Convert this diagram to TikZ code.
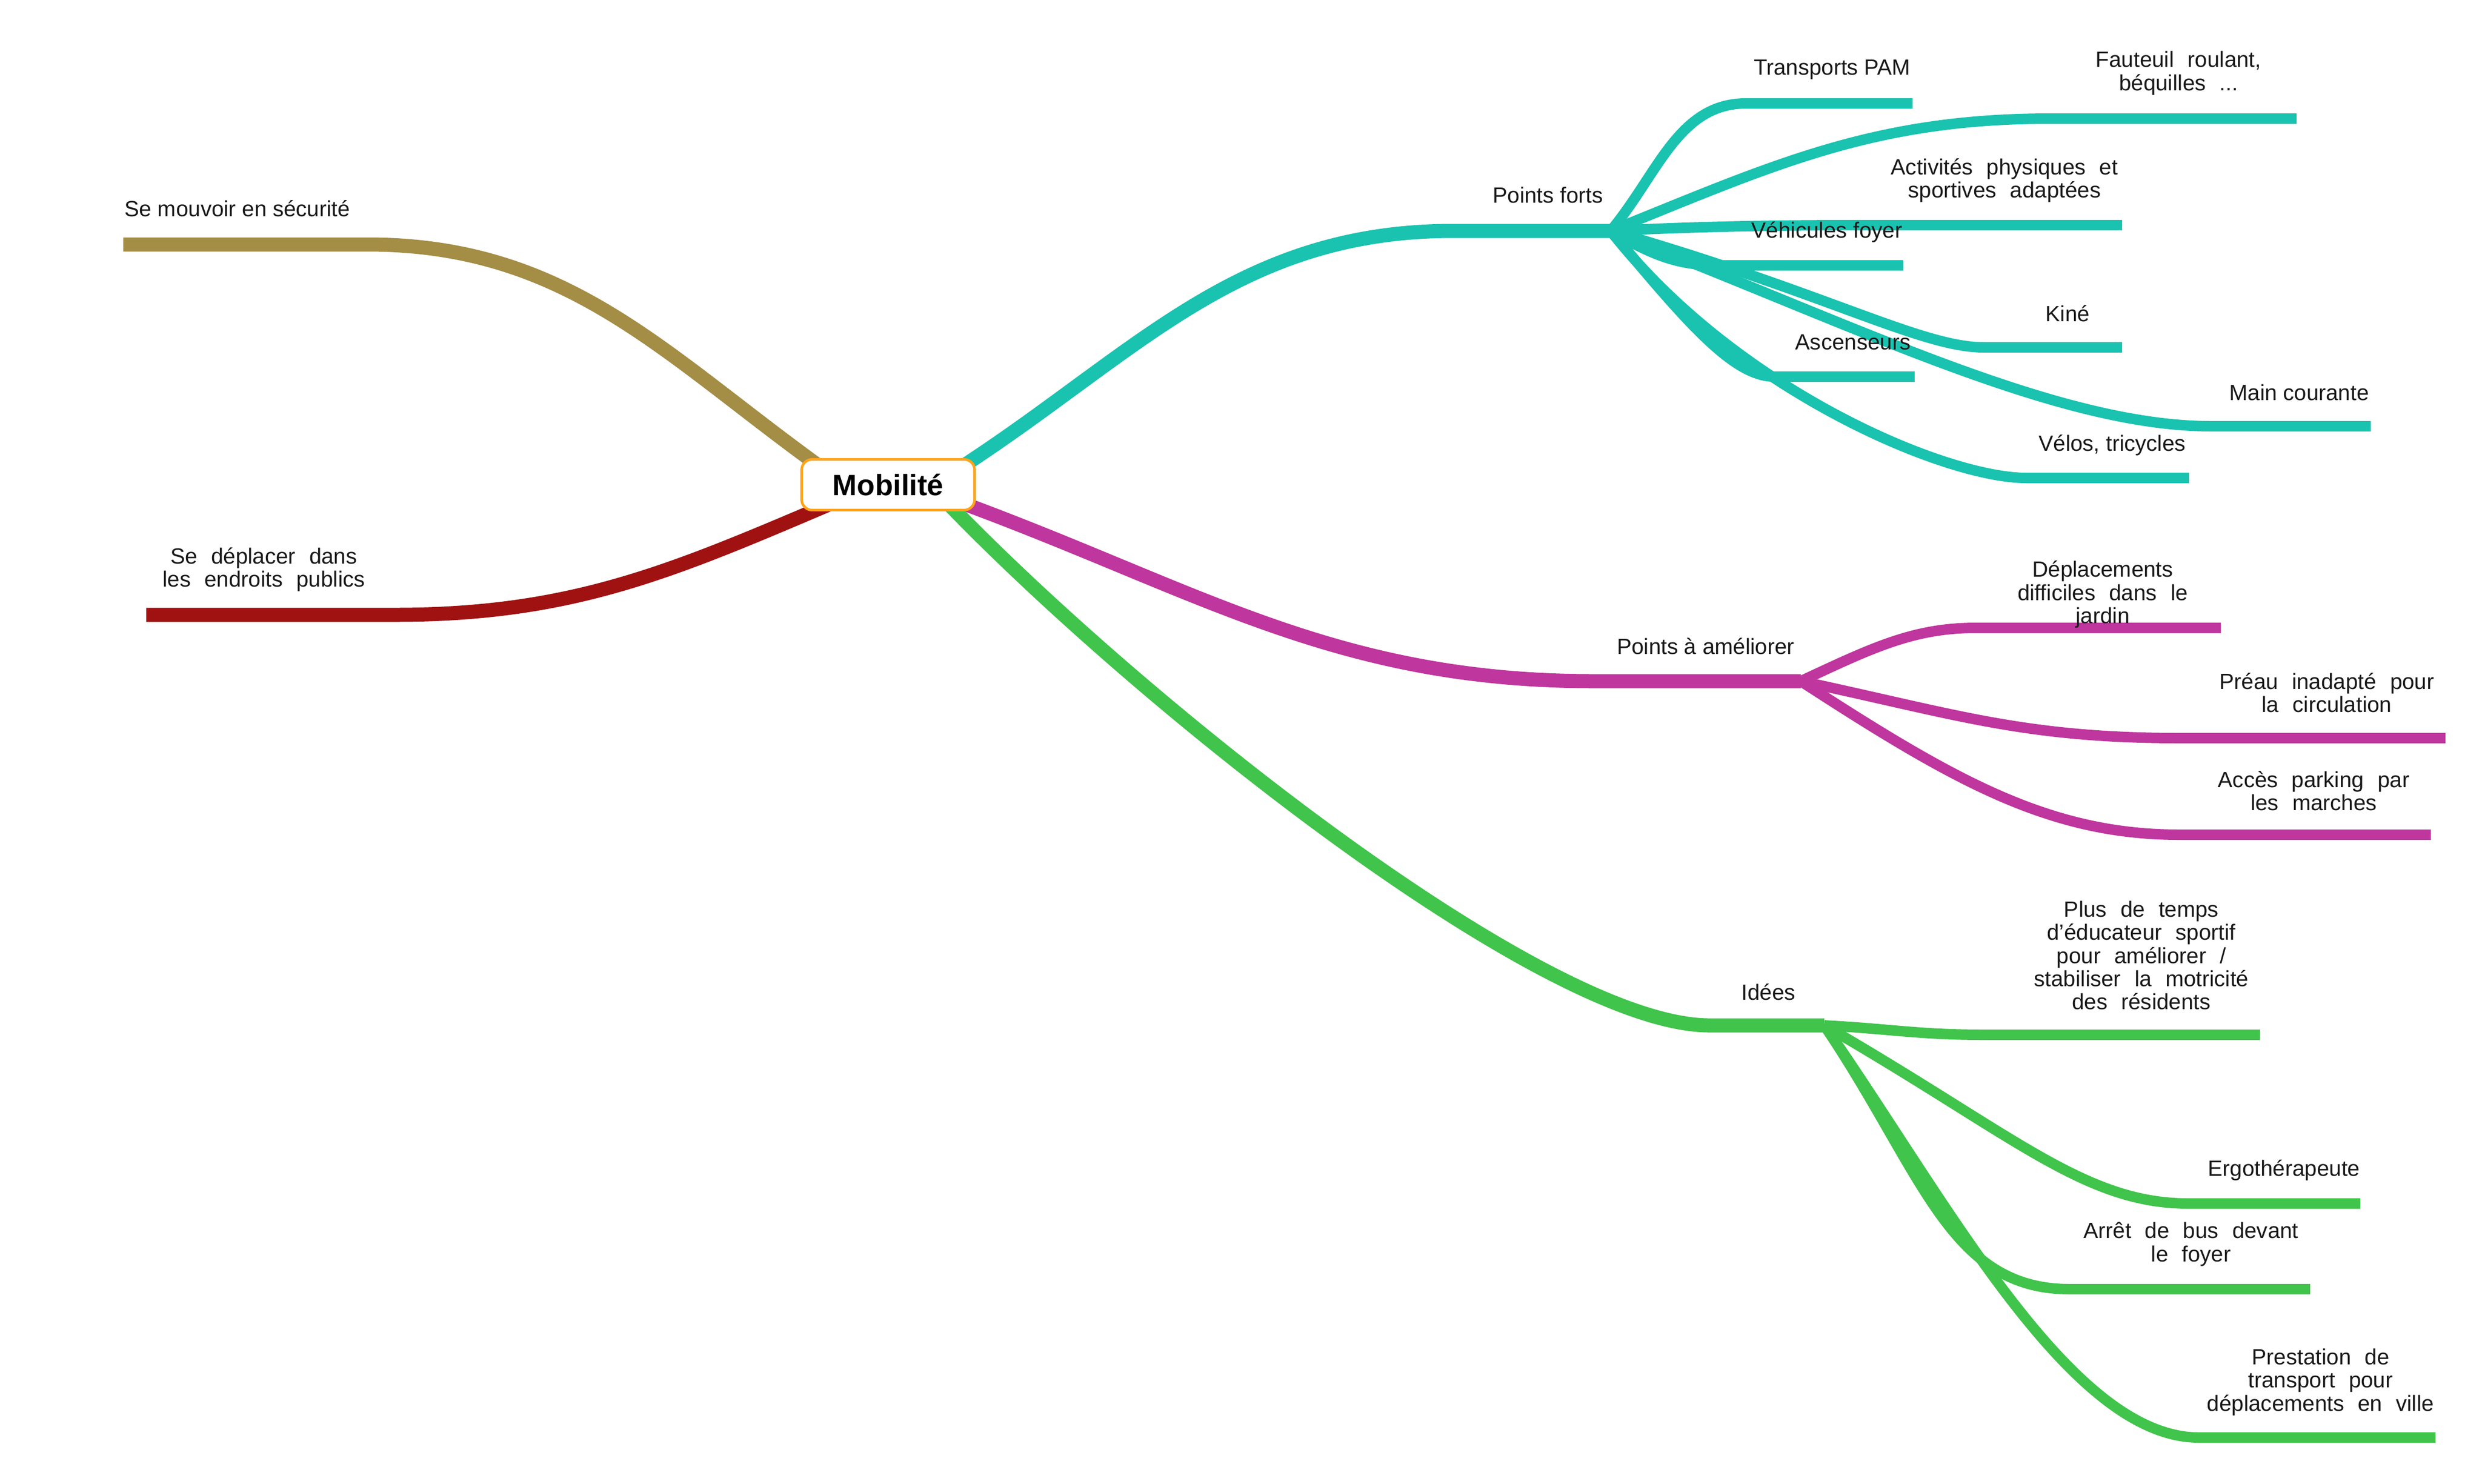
\documentclass[tikz,border=0pt]{standalone}
\usepackage{fontspec}
\setmainfont{Liberation Sans}
\usetikzlibrary{positioning, calc}

\definecolor{mmOlive}{HTML}{A48D45}
\definecolor{mmRed}{HTML}{A01212}
\definecolor{mmTeal}{HTML}{19C3B0}
\definecolor{mmPink}{HTML}{BF369E}
\definecolor{mmGreen}{HTML}{40C44B}
\definecolor{mmOrange}{HTML}{FFA31A}
\newcommand{\widewords}{\spaceskip=0.62em\relax}

\begin{document}
\begin{tikzpicture}[
  rootnode/.style={draw=mmOrange, line width=1.4pt, rounded corners=2mm, fill=white, minimum width=3.31cm, minimum height=0.97cm, inner sep=0pt, font=\fontsize{16}{18}\selectfont\bfseries},
  lbl/.style={inner sep=0pt, text=black!90, font=\fontsize{12}{12.6}\selectfont},
  wlbl/.style={lbl, align=center, execute at begin node=\widewords},
  trunk/.style={line width=2.7mm},
  twig/.style={line width=2mm}
]
\path[use as bounding box, fill=white] (0,0) rectangle (47.51,-28.40);

% Centre and branch roots (hidden under the box)
\coordinate (C) at (17.00,-9.28);
\coordinate (OlS) at ($(C)+(-0.93,0.08)$);
\coordinate (ReS) at ($(C)+(-0.76,-0.22)$);
\coordinate (TeS) at ($(C)+(1.00,0.08)$);
\coordinate (PiS) at ($(C)+(1.20,-0.27)$);
\coordinate (GrS) at ($(C)+(0.90,-0.10)$);

% Se mouvoir en sécurité
\coordinate (OlB) at (7.03,-4.68);
\coordinate (Ol)  at (2.36,-4.68);
\draw[trunk, mmOlive] (OlS) .. controls +(145:3.96) and +(3.96,0) .. (OlB) -- (Ol);
\node[lbl, anchor=west] (OlLbl) at (2.38,-3.99) {Se mouvoir en sécurité};

% Se déplacer dans les endroits publics
\coordinate (ReB) at (7.57,-11.77);
\coordinate (Re)  at (2.80,-11.77);
\draw[trunk, mmRed] (ReS) .. controls +(-157:3.51) and +(3.51,0) .. (ReB) -- (Re);
\node[wlbl] (ReLbl) at (5.05,-10.90) {Se déplacer dans\\les endroits publics};

% Points forts
\coordinate (PFB) at (27.82,-4.42);
\coordinate (PF)  at (30.83,-4.42);
\draw[trunk, mmTeal] (TeS) .. controls +(32:4.28) and +(-4.28,0) .. (PFB) -- (PF);
\node[lbl] (PFLbl) at (29.63,-3.73) {Points forts};

\coordinate (TPB) at (33.42,-1.98); \coordinate (TP) at (36.61,-1.98);
\coordinate (FRB) at (39.26,-2.27); \coordinate (FR) at (43.96,-2.27);
\coordinate (APB) at (35.50,-4.31); \coordinate (AP) at (40.62,-4.31);
\coordinate (VFB) at (32.89,-5.08); \coordinate (VF) at (36.43,-5.08);
\coordinate (KIB) at (37.97,-6.65); \coordinate (KI) at (40.62,-6.65);
\coordinate (ASB) at (33.96,-7.21); \coordinate (AS) at (36.65,-7.21);
\coordinate (MCB) at (42.33,-8.16); \coordinate (MC) at (45.38,-8.16);
\coordinate (VTB) at (38.79,-9.15); \coordinate (VT) at (41.90,-9.15);

\draw[twig, mmTeal] (PF) .. controls +(50:1.4) and +(-1.3,0) .. (TPB) -- (TP);
\draw[twig, mmTeal] (PF) .. controls +(22:3.4) and +(-3.4,0) .. (FRB) -- (FR);
\draw[twig, mmTeal] (PF) .. controls +(3:1.5) and +(-1.5,0) .. (APB) -- (AP);
\draw[twig, mmTeal] (PF) .. controls +(-30:0.9) and +(-0.8,0) .. (VFB) -- (VF);
\draw[twig, mmTeal] (PF) .. controls +(-16:4.3) and +(-1.2,0) .. (KIB) -- (KI);
\draw[twig, mmTeal] (PF) .. controls +(-50:2.2) and +(-0.8,0) .. (ASB) -- (AS);
\draw[twig, mmTeal] (PF) .. controls +(-21:5.0) and +(-3.0,0) .. (MCB) -- (MC);
\draw[twig, mmTeal] (PF) .. controls +(-52:3.8) and +(-1.6,0) .. (VTB) -- (VT);

\node[lbl]  (TPLbl) at (35.07,-1.33) {Transports PAM};
\node[wlbl] (FRLbl) at (41.70,-1.40) {Fauteuil roulant,\\béquilles ...};
\node[wlbl] (APLbl) at (38.37,-3.45) {Activités physiques et\\sportives adaptées};
\node[lbl]  (VFLbl) at (34.97,-4.44) {Véhicules foyer};
\node[lbl]  (KILbl) at (39.58,-6.00) {Kiné};
\node[lbl]  (ASLbl) at (35.47,-6.55) {Ascenseurs};
\node[lbl]  (MCLbl) at (44.01,-7.51) {Main courante};
\node[lbl]  (VTLbl) at (40.43,-8.52) {Vélos, tricycles};

% Points à améliorer
\coordinate (PAB) at (30.50,-13.04);
\coordinate (PA)  at (34.47,-13.04);
\draw[trunk, mmPink] (PiS) .. controls +(-20:5.0) and +(-5.0,0) .. (PAB) -- (PA);
\node[lbl] (PALbl) at (32.65,-12.37) {Points à améliorer};

\coordinate (DJB) at (37.82,-12.02); \coordinate (DJ) at (42.51,-12.02);
\coordinate (PRB) at (41.72,-14.13); \coordinate (PR) at (46.81,-14.13);
\coordinate (ACB) at (41.72,-15.98); \coordinate (AC) at (46.53,-15.98);

\draw[twig, mmPink] (PA) .. controls +(25:1.5) and +(-1.2,0) .. (DJB) -- (DJ);
\draw[twig, mmPink] (PA) .. controls +(-12:3.0) and +(-3.0,0) .. (PRB) -- (PR);
\draw[twig, mmPink] (PA) .. controls +(-33:3.5) and +(-2.5,0) .. (ACB) -- (AC);

\node[wlbl] (DJLbl) at (40.25,-11.38) {Déplacements\\difficiles dans le\\jardin};
\node[wlbl] (PRLbl) at (44.54,-13.26) {Préau inadapté pour\\la circulation};
\node[wlbl] (ACLbl) at (44.29,-15.14) {Accès parking par\\les marches};

% Idées
\coordinate (IDB) at (32.72,-19.63);
\coordinate (ID)  at (34.92,-19.63);
\draw[trunk, mmGreen] (GrS) .. controls +(-46.7:5.25) and +(-3.22,0) .. (IDB) -- (ID);
\node[lbl] (IDLbl) at (33.85,-18.99) {Idées};

\coordinate (PTB) at (38.00,-19.81); \coordinate (PT) at (43.26,-19.81);
\coordinate (ERB) at (41.89,-23.04); \coordinate (ER) at (45.18,-23.04);
\coordinate (ABB) at (39.62,-24.68); \coordinate (AB) at (44.22,-24.68);
\coordinate (PVB) at (42.09,-27.52); \coordinate (PV) at (46.62,-27.52);

\draw[twig, mmGreen] (ID) .. controls +(-3:1.3) and +(-1.3,0) .. (PTB) -- (PT);
\draw[twig, mmGreen] (ID) .. controls +(-30:4.2) and +(-2.0,0) .. (ERB) -- (ER);
\draw[twig, mmGreen] (ID) .. controls +(-56:3.4) and +(-2.32,0) .. (ABB) -- (AB);
\draw[twig, mmGreen] (ID) .. controls +(-55:4.0) and +(-2.49,0) .. (PVB) -- (PV);

\node[wlbl] (PTLbl) at (40.99,-18.29) {Plus de temps\\d'éducateur sportif\\pour améliorer /\\stabiliser la motricité\\des résidents};
\node[lbl]  (ERLbl) at (43.72,-22.40) {Ergothérapeute};
\node[wlbl] (ABLbl) at (41.94,-23.82) {Arrêt de bus devant\\le foyer};
\node[wlbl] (PVLbl) at (44.42,-26.46) {Prestation de\\transport pour\\déplacements en ville};

% Central topic
\node[rootnode] (Root) at (C) {Mobilité};
\end{tikzpicture}
\end{document}
